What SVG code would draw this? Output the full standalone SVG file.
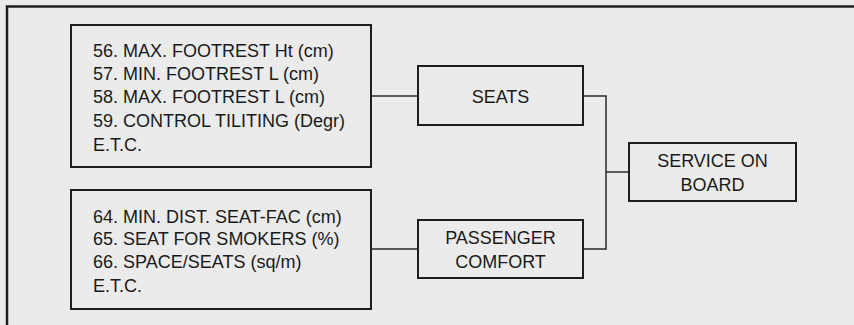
<svg xmlns="http://www.w3.org/2000/svg" width="854" height="325" viewBox="0 0 854 325">
  <style>
    .box { fill: none; stroke: #1e1e1e; stroke-width: 2; }
    .wire { fill: none; stroke: #2a2a2a; stroke-width: 1.5; }
    text { font-family: "Liberation Sans", Arial, sans-serif; font-size: 18px; fill: #1a1a1a; }
    .c { text-anchor: middle; }
  </style>
  <rect x="0" y="0" width="854" height="325" fill="#ebebeb"/>
  <path d="M7,330 L7,6.5 L860,6.5" fill="none" stroke="#1e1e1e" stroke-width="2.5"/>
  <g id="connectors">
    <path class="wire" d="M371,96 L418,96"/>
    <path class="wire" d="M371,249 L418,249"/>
    <path class="wire" d="M583,96 L606,96 L606,249 L583,249"/>
    <path class="wire" d="M606,172 L629,172"/>
  </g>
  <g id="seat-params">
    <rect class="box" x="71" y="25" width="300" height="142"/>
    <text x="93" y="57">56. MAX. FOOTREST Ht (cm)</text>
    <text x="93" y="80">57. MIN. FOOTREST L (cm)</text>
    <text x="93" y="103">58. MAX. FOOTREST L (cm)</text>
    <text x="93" y="127">59. CONTROL TILITING (Degr)</text>
    <text x="93" y="151">E.T.C.</text>
  </g>
  <g id="comfort-params">
    <rect class="box" x="71" y="190" width="300" height="119"/>
    <text x="93" y="223">64. MIN. DIST. SEAT-FAC (cm)</text>
    <text x="93" y="245">65. SEAT FOR SMOKERS (%)</text>
    <text x="93" y="268">66. SPACE/SEATS (sq/m)</text>
    <text x="93" y="292">E.T.C.</text>
  </g>
  <g id="seats">
    <rect class="box" x="418" y="66" width="165" height="59"/>
    <text class="c" x="500.5" y="103">SEATS</text>
  </g>
  <g id="passenger-comfort">
    <rect class="box" x="418" y="220" width="165" height="58"/>
    <text class="c" x="500.5" y="244">PASSENGER</text>
    <text class="c" x="500.5" y="268">COMFORT</text>
  </g>
  <g id="service-on-board">
    <rect class="box" x="629" y="143" width="167" height="58"/>
    <text class="c" x="712.5" y="167">SERVICE ON</text>
    <text class="c" x="712.5" y="191">BOARD</text>
  </g>
</svg>
